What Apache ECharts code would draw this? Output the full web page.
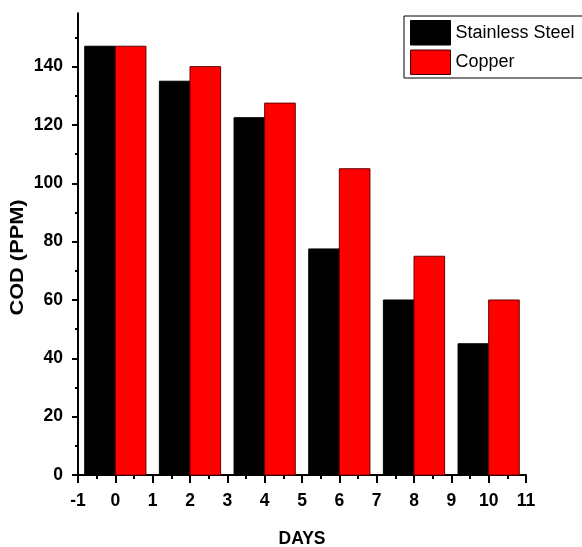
<!DOCTYPE html>
<html><head><meta charset="utf-8">
<script src="https://cdn.jsdelivr.net/npm/echarts@6/dist/echarts.min.js"></script>
<style>html,body{margin:0;padding:0;background:#fff}#c{width:582px;height:547px}</style>
</head><body><div id="c"></div>
<script>
const days = [0, 2, 4, 6, 8, 10];
const stainlessSteel = [147, 135, 122.5, 77.5, 60, 45];
const copper = [147, 140, 127.5, 105, 75, 60];
const seriesNames = ['Stainless Steel', 'Copper'];
const xTicks = { min: -1, max: 11, interval: 1 };
const yTicks = { min: 0, max: 160, interval: 20 };

const FONT = '"Liberation Sans", Arial, sans-serif';
const BAR_W = 0.82;

function makeRender(o0, o1) {
  return function (params, api) {
    const x = api.value(0), y = api.value(1);
    const p0 = api.coord([x + o0, y]);
    const p1 = api.coord([x + o1, 0]);
    return {
      type: 'rect',
      shape: { x: p0[0], y: p0[1], width: p1[0] - p0[0], height: p1[1] - p0[1] },
      style: api.style()
    };
  };
}

const chart = echarts.init(document.getElementById('c'), null, { renderer: 'canvas' });
chart.setOption({
  animation: false,
  backgroundColor: '#fff',
  grid: { left: 78, right: 56, top: 8.3, bottom: 72, containLabel: false, outerBoundsMode: 'none' },
  legend: {
    orient: 'vertical', left: 404, top: 16,
    padding: [4, 14, 3, 6], itemGap: 4, itemWidth: 40, itemHeight: 24.5,
    borderColor: '#000', borderWidth: 1, icon: 'rect',
    textStyle: { fontFamily: FONT, fontSize: 18, color: '#000' },
    data: [
      { name: seriesNames[0], itemStyle: { color: '#000', borderColor: '#000', borderWidth: 1 } },
      { name: seriesNames[1], itemStyle: { color: '#ff0000', borderColor: '#400000', borderWidth: 1 } }
    ]
  },
  xAxis: {
    type: 'value', min: xTicks.min, max: xTicks.max, interval: xTicks.interval,
    name: 'DAYS', nameLocation: 'middle', nameGap: 55,
    nameTextStyle: { fontFamily: FONT, fontSize: 17.5, fontWeight: 'bold', color: '#000' },
    axisLine: { show: true, onZero: false, lineStyle: { color: '#000', width: 2 } },
    axisTick: { show: true, inside: false, length: 8, lineStyle: { color: '#000', width: 2 } },
    minorTick: { show: true, splitNumber: 2, length: 4, lineStyle: { color: '#000', width: 2 } },
    axisLabel: { margin: 17, fontFamily: FONT, fontSize: 17.5, fontWeight: 'bold', color: '#000' },
    splitLine: { show: false }
  },
  yAxis: {
    type: 'value', min: yTicks.min, max: yTicks.max, interval: yTicks.interval,
    axisLine: { show: true, onZero: false, lineStyle: { color: '#000', width: 2 } },
    axisTick: { show: true, inside: false, length: 6, lineStyle: { color: '#000', width: 2 } },
    minorTick: { show: true, splitNumber: 2, length: 3, lineStyle: { color: '#000', width: 2 } },
    axisLabel: { margin: 15, fontFamily: FONT, fontSize: 17.5, fontWeight: 'bold', color: '#000',
      formatter: v => (v >= 160 ? '' : String(v)) },
    splitLine: { show: false }
  },
  graphic: [
    { type: 'rect', z: 100, shape: { x: 60, y: 0, width: 21, height: 12.5 }, style: { fill: '#fff' } },
    {
      type: 'text', x: 18.5, y: 257.5, rotation: Math.PI / 2, scaleX: 1.21,
      style: { text: 'COD (PPM)', font: 'bold 18px ' + FONT, fill: '#000', align: 'center', verticalAlign: 'middle' }
    }
  ],
  series: [
    {
      name: seriesNames[0], type: 'custom', renderItem: makeRender(-BAR_W, 0),
      itemStyle: { color: '#000', borderColor: '#000', borderWidth: 1 },
      encode: { x: 0, y: 1 },
      data: days.map((d, i) => [d, stainlessSteel[i]])
    },
    {
      name: seriesNames[1], type: 'custom', renderItem: makeRender(0, BAR_W),
      itemStyle: { color: '#ff0000', borderColor: '#6a0000', borderWidth: 1 },
      encode: { x: 0, y: 1 },
      data: days.map((d, i) => [d, copper[i]])
    }
  ]
});
</script></body></html>
